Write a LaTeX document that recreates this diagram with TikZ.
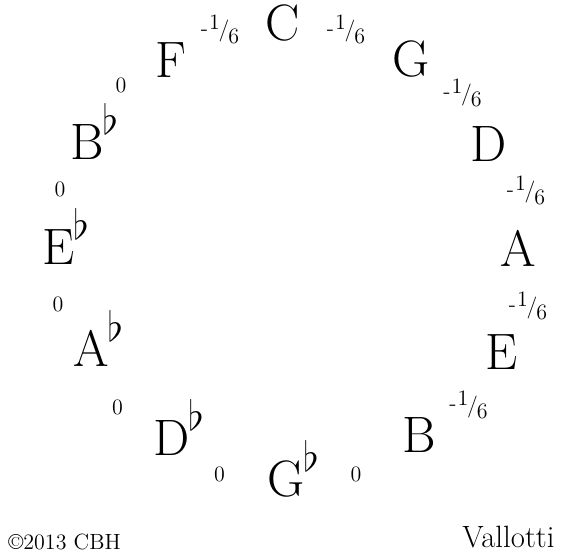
\documentclass[tikz,border=0pt]{standalone}
\usepackage{tikz}
\newcommand{\flt}{\kern-0.03em\raisebox{0.49em}{\fontsize{21}{21}\selectfont$\flat$}}
\newcommand{\sixth}{\raisebox{0.35em}{-}\kern0.05em\raisebox{0.6em}{1}\kern-0.05em\raisebox{0.3em}{/}\kern-0.05em 6}

\begin{document}
\begin{tikzpicture}[x=0.5pt,y=-0.5pt,
  note/.style={anchor=base west,inner sep=0pt,font=\fontsize{25.6}{26}\selectfont},
  tune/.style={inner sep=0pt,font=\fontsize{11}{11}\selectfont}]
  \useasboundingbox (0,0) rectangle (564,555);
  % the twelve notes round the circle of fifths
  \node[note] (c) at (265,41) {C};
  \node[note] (g) at (392,77) {G};
  \node[note] (d) at (470,162) {D};
  \node[note] (a) at (500,267) {A};
  \node[note] (e) at (485,370) {E};
  \node[note] (b) at (402,453) {B};
  \node[note] (gb) at (267,497) {G\flt};
  \node[note] (db) at (153,456) {D\flt};
  \node[note] (ab) at (73,367) {A\flt};
  \node[note] (eb) at (42,265) {E\flt};
  \node[note] (bb) at (70,160) {B\flt};
  \node[note] (f) at (155,78) {F};
  % tempering of each fifth
  \node[tune] (fc) at (220,29.5) {\sixth};
  \node[tune] (cg) at (346,29.5) {\sixth};
  \node[tune] (gd) at (462.5,93) {\sixth};
  \node[tune] (da) at (526,190.5) {\sixth};
  \node[tune] (ae) at (528,306) {\sixth};
  \node[tune] (eb2) at (468.5,405) {\sixth};
  \node[tune] (bgb) at (356,474) {0};
  \node[tune] (gbdb) at (219.5,474) {0};
  \node[tune] (dbab) at (117.5,407.5) {0};
  \node[tune] (abeb) at (58,304.5) {0};
  \node[tune] (ebbb) at (60,189.5) {0};
  \node[tune] (bbf) at (121,85.5) {0};
  % credits
  \node[anchor=base west,inner sep=0pt,font=\fontsize{11}{11}\selectfont]
        (copy) at (8,550) {\textcopyright2013 CBH};
  \node[anchor=base west,inner sep=0pt,font=\fontsize{15.4}{16}\selectfont]
        (title) at (462,548) {Vallotti};
\end{tikzpicture}
\end{document}
